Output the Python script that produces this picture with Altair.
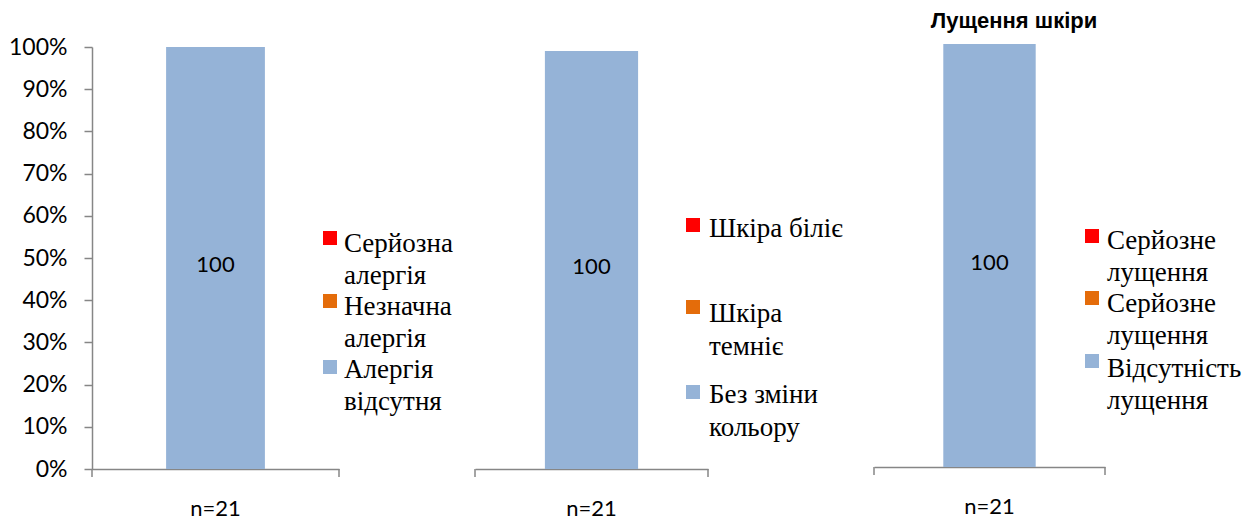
import altair as alt
import pandas as pd

# ---- data ----
categories = ["n=21", "n=21", "n=21"]
panel_names = ["Алергія", "Колір шкіри", "Лущення шкіри"]
bar_values = [100, 100, 100]
legend_labels = [
    [["Серйозна", "алергія"], ["Незначна", "алергія"], ["Алергія", "відсутня"]],
    [["Шкіра біліє"], ["Шкіра", "темніє"], ["Без зміни", "кольору"]],
    [["Серйозне", "лущення"], ["Серйозне", "лущення"], ["Відсутність", "лущення"]],
]
legend_colors = ["#FF0000", "#E46C0A", "#95B3D7"]
y_ticks = [0, 10, 20, 30, 40, 50, 60, 70, 80, 90, 100]

# ---- style ----
BLUE = "#95B3D7"
GRAY = "#868686"
SANS = "Lato, Carlito, Calibri, sans-serif"
SERIF = "Liberation Serif, Times New Roman, serif"

SPACING = 136
panel_w = [247, 263, 231]          # container widths
axis_w = [247, 233, 231]           # length of the category axis
panel_h = [425, 425, 423]
y_ranges = [[425, 3], [425, 7], [423, 0]]
# legend layout per panel: square x, text x, square centers, first-line baselines
leg_sq_x = [231, 211, 211]
leg_tx_x = [252, 234, 233]
leg_sq_cy = [[194, 257, 323], [181, 263, 348], [192, 254, 317]]
leg_base_y = [[208, 271, 334], [193, 278, 359], [205, 268, 333]]
line_h = [32, 33, 32]


def make_panel(i):
    W, AW, H = panel_w[i], axis_w[i], panel_h[i]
    df = pd.DataFrame({"cat": [categories[i]], "value": [bar_values[i]]})
    base = alt.Chart(df)
    x_scale = alt.Scale(paddingInner=0, paddingOuter=0.75, range=[0, AW])
    x_enc = alt.X(
        "cat:N",
        scale=x_scale,
        axis=alt.Axis(
            title=None, ticks=False, tickSize=0, domainColor=GRAY, domainWidth=1.5,
            labelAngle=0, labelFont=SANS, labelFontSize=22, labelColor="black",
            labelPadding=39, labelBaseline="middle",
        ),
    )
    if i == 0:
        y_axis = alt.Axis(
            title=None, values=y_ticks, labelExpr="datum.value + '%'",
            tickSize=8, tickColor=GRAY, tickWidth=1.5, domainColor=GRAY, domainWidth=1.5,
            grid=False, labelFont=SANS, labelFontSize=23, labelColor="black",
            labelPadding=17, minExtent=82, maxExtent=82,
        )
    else:
        y_axis = None
    y_scale = alt.Scale(domain=[0, 100], range=y_ranges[i])
    bars = base.mark_bar(color=BLUE).encode(
        x=x_enc, y=alt.Y("value:Q", scale=y_scale, axis=y_axis)
    )
    labels = base.transform_calculate(mid="datum.value / 2").mark_text(
        font=SANS, fontSize=22, color="black", dy=7
    ).encode(x=alt.X("cat:N"), y=alt.Y("mid:Q"), text=alt.Text("value:Q"))
    layers = [bars, labels]
    # end ticks of the category axis
    for xv in (0, AW):
        layers.append(
            base.mark_rule(color=GRAY, strokeWidth=1.5).encode(
                x=alt.value(xv), y=alt.value(H), y2=alt.value(H + 8)
            )
        )
    # legend
    for j, (lab, col) in enumerate(zip(legend_labels[i], legend_colors)):
        sx, cy = leg_sq_x[i], leg_sq_cy[i][j]
        layers.append(
            base.mark_rect(color=col).encode(
                x=alt.value(sx), x2=alt.value(sx + 14),
                y=alt.value(cy - 7), y2=alt.value(cy + 7),
            )
        )
        layers.append(
            base.mark_text(
                align="left", baseline="alphabetic", font=SERIF, fontSize=27,
                lineHeight=line_h[i], color="black",
            ).encode(x=alt.value(leg_tx_x[i]), y=alt.value(leg_base_y[i][j]),
                     text=alt.value(lab))
        )
    if i == 2:
        layers.append(
            base.mark_text(
                align="center", baseline="alphabetic", font="Liberation Sans",
                fontWeight="bold", fontSize=22, color="black",
            ).encode(x=alt.value(140), y=alt.value(-16), text=alt.value(panel_names[i]))
        )
    return alt.layer(*layers).properties(width=W, height=H)


p1, p2, p3 = (make_panel(i) for i in range(3))
chart = alt.hconcat(p1, p2, p3, spacing=SPACING, bounds="flush").properties(
    padding={"left": 0, "top": 2, "right": 0, "bottom": 0}
).configure_view(strokeWidth=0)

chart.save("out.html", embed_options={"renderer": "svg", "actions": False})
